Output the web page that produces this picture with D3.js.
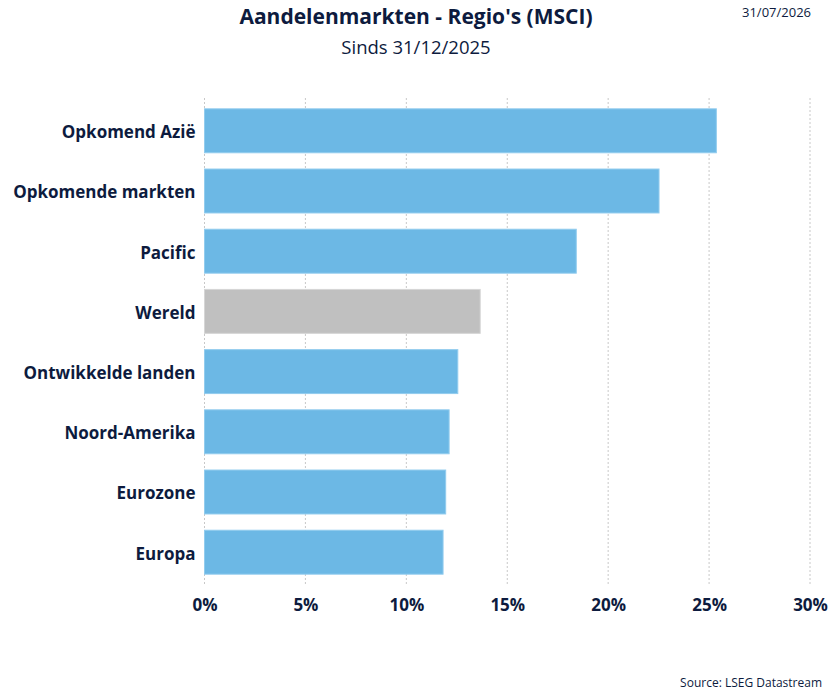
<!DOCTYPE html>
<html>
<head>
<meta charset="utf-8">
<script src="https://cdn.jsdelivr.net/npm/d3@7"></script>
<style>
  body { margin: 0; background: #fff; }
  text { font-family: 'Open Sans', sans-serif; fill: #0d1b3e; }
</style>
</head>
<body>
<svg id="chart" width="828" height="691"></svg>
<script>
// data
const regions = ['Opkomend Azië', 'Opkomende markten', 'Pacific', 'Wereld',
  'Ontwikkelde landen', 'Noord-Amerika', 'Eurozone', 'Europa'];
const returns = [25.36, 22.52, 18.42, 13.66, 12.55, 12.12, 11.95, 11.82];
const xTicks = [0, 5, 10, 15, 20, 25, 30];
const highlight = 'Wereld';

const svg = d3.select('#chart');

const x = d3.scaleLinear()
  .domain([0, 30])
  .range([204.5, 810]);

const y = d3.scaleBand()
  .domain(regions)
  .range([101, 582])
  .paddingInner(0.27)
  .paddingOuter(0.13);

// gridlines
svg.append('g')
  .attr('class', 'grid')
  .selectAll('line')
  .data(xTicks)
  .join('line')
    .attr('x1', d => x(d))
    .attr('x2', d => x(d))
    .attr('y1', 98)
    .attr('y2', 586)
    .attr('stroke', '#c8c8c8')
    .attr('stroke-width', 1)
    .attr('stroke-dasharray', '2,2');

// bars
svg.append('g')
  .selectAll('rect')
  .data(regions)
  .join('rect')
    .attr('x', x(0))
    .attr('y', d => y(d))
    .attr('width', (d, i) => x(returns[i]) - x(0))
    .attr('height', y.bandwidth())
    .attr('fill', d => d === highlight ? '#c0c0c0' : '#6cb8e5')
    .attr('stroke', d => d === highlight ? '#d6d6d6' : '#92ccee')
    .attr('stroke-width', 1);

// category labels
const yAxis = svg.append('g')
  .attr('transform', `translate(${x(0)},2)`)
  .call(d3.axisLeft(y).tickSize(0).tickPadding(9));
yAxis.select('.domain').remove();
yAxis.selectAll('text')
  .style('font-family', "'Open Sans', sans-serif")
  .style('font-size', '17px')
  .style('font-weight', 'bold')
  .attr('fill', '#0d1b3e');

// value axis labels
const xAxis = svg.append('g')
  .attr('transform', 'translate(0,587)')
  .call(d3.axisBottom(x).tickValues(xTicks).tickFormat(d => d + '%').tickSize(0).tickPadding(12));
xAxis.select('.domain').remove();
xAxis.selectAll('text')
  .style('font-family', "'Open Sans', sans-serif")
  .style('font-size', '17px')
  .style('font-weight', 'bold')
  .attr('fill', '#0d1b3e');

// titles
svg.append('text')
  .attr('x', 416)
  .attr('y', 24)
  .attr('text-anchor', 'middle')
  .style('font-size', '21px')
  .style('font-weight', 'bold')
  .text("Aandelenmarkten - Regio's (MSCI)");

svg.append('text')
  .attr('x', 416)
  .attr('y', 54)
  .attr('text-anchor', 'middle')
  .style('font-size', '18.5px')
  .text('Sinds 31/12/2025');

svg.append('text')
  .attr('x', 811)
  .attr('y', 17)
  .attr('text-anchor', 'end')
  .style('font-size', '13px')
  .text('31/07/2026');

svg.append('text')
  .attr('x', 822)
  .attr('y', 687)
  .attr('text-anchor', 'end')
  .style('font-size', '12px')
  .text('Source: LSEG Datastream');
</script>
</body>
</html>
